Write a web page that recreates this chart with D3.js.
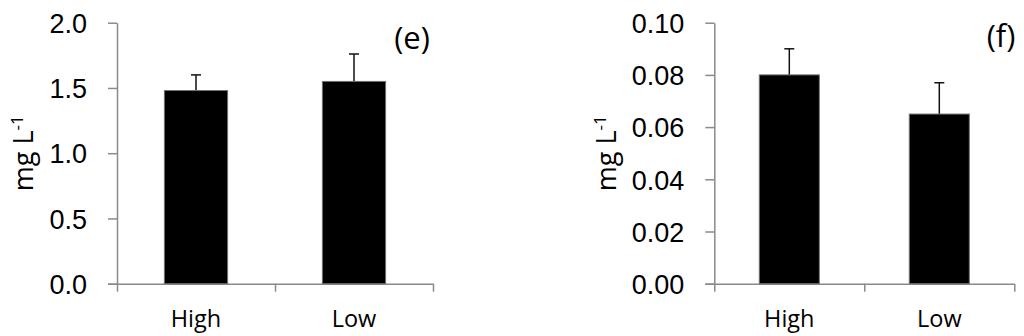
<!DOCTYPE html>
<html>
<head>
<meta charset="utf-8">
<script src="https://cdn.jsdelivr.net/npm/d3@7"></script>
<style>
  body { margin: 0; background: #fff; }
  svg { display: block; font-family: "Open Sans", sans-serif; }
</style>
</head>
<body>
<div id="chart"></div>
<script>
const categories = ["High", "Low"];

const valuesE = [1.48, 1.55];
const errorsE = [0.12, 0.21];
const ticksE = [0, 0.5, 1.0, 1.5, 2.0];

const valuesF = [0.080, 0.065];
const errorsF = [0.010, 0.012];
const ticksF = [0, 0.02, 0.04, 0.06, 0.08, 0.10];

const W = 1024, H = 336;
const axisColor = "#8a8a8a";

const svg = d3.select("#chart").append("svg")
  .attr("width", W)
  .attr("height", H);

function panel(opts) {
  const { x0, x1, yTop, yBottom, values, errors, ticks, fmt, tag, tagX, tagY, labelX } = opts;

  const y = d3.scaleLinear()
    .domain([ticks[0], ticks[ticks.length - 1]])
    .range([yBottom, yTop]);

  const xb = d3.scaleBand()
    .domain(categories)
    .range([x0, x1])
    .paddingInner(0.6)
    .paddingOuter(0.3);

  const g = svg.append("g");

  // y axis
  const ya = g.append("g")
    .attr("transform", `translate(${x0},0)`)
    .call(d3.axisLeft(y).tickValues(ticks).tickFormat(fmt)
      .tickSize(9).tickSizeOuter(0).tickPadding(21));
  ya.select(".domain").attr("stroke", axisColor).attr("stroke-width", 1.5);
  ya.selectAll(".tick line").attr("stroke", axisColor).attr("stroke-width", 1.5);
  ya.selectAll(".tick text")
    .attr("fill", "#000")
    .style("font-size", "27px")
    .attr("dy", "0.36em");

  // x axis (ticks at category boundaries)
  const xl = d3.scaleLinear().domain([0, categories.length]).range([x0, x1]);
  const xa = g.append("g")
    .attr("transform", `translate(0,${yBottom})`)
    .call(d3.axisBottom(xl).tickValues(d3.range(categories.length + 1))
      .tickFormat("").tickSize(8).tickSizeOuter(0));
  xa.select(".domain").attr("stroke", axisColor).attr("stroke-width", 1.5)
    .attr("d", `M${x0 - 9},0.5H${x1}`);
  xa.selectAll(".tick line").attr("stroke", axisColor).attr("stroke-width", 1.5);

  g.selectAll(".xlab")
    .data(categories)
    .join("text")
    .attr("class", "xlab")
    .attr("x", d => xb(d) + xb.bandwidth() / 2)
    .attr("y", 327)
    .attr("text-anchor", "middle")
    .style("font-size", "23.5px")
    .text(d => d);

  const data = categories.map((c, i) => ({ c, v: values[i], e: errors[i] }));

  // error bars (upper only)
  const eb = g.selectAll(".err").data(data).join("g").attr("class", "err")
    .attr("stroke", "#111").attr("stroke-width", 1.5);
  eb.append("line")
    .attr("x1", d => xb(d.c) + xb.bandwidth() / 2)
    .attr("x2", d => xb(d.c) + xb.bandwidth() / 2)
    .attr("y1", d => y(d.v))
    .attr("y2", d => y(d.v + d.e));
  eb.append("line")
    .attr("x1", d => xb(d.c) + xb.bandwidth() / 2 - 5)
    .attr("x2", d => xb(d.c) + xb.bandwidth() / 2 + 5)
    .attr("y1", d => y(d.v + d.e))
    .attr("y2", d => y(d.v + d.e));

  // bars
  g.selectAll(".bar")
    .data(data)
    .join("rect")
    .attr("class", "bar")
    .attr("x", d => xb(d.c))
    .attr("width", xb.bandwidth())
    .attr("y", d => y(d.v))
    .attr("height", d => y(0) - y(d.v))
    .attr("fill", "#000")
    .attr("stroke", "#6f6f6f")
    .attr("stroke-width", 1);

  // y label
  const yl = g.append("text")
    .attr("transform", `translate(${labelX},${(yTop + yBottom) / 2}) rotate(-90)`)
    .attr("text-anchor", "middle")
    .style("font-size", "27px");
  yl.append("tspan").text("mg L");
  yl.append("tspan").attr("dy", "-0.6em").style("font-size", "17px").text("-1");

  // panel tag
  g.append("text")
    .attr("x", tagX)
    .attr("y", tagY)
    .attr("text-anchor", "middle")
    .attr("dy", "0.35em")
    .style("font-size", "31px")
    .text(tag);
}

panel({
  x0: 117, x1: 433, yTop: 22.7, yBottom: 283.7,
  values: valuesE, errors: errorsE, ticks: ticksE, fmt: d3.format(".1f"),
  tag: "(e)", tagX: 412, tagY: 38, labelX: 33
});

panel({
  x0: 714.3, x1: 1014.3, yTop: 22.7, yBottom: 283.7,
  values: valuesF, errors: errorsF, ticks: ticksF, fmt: d3.format(".2f"),
  tag: "(f)", tagX: 1001, tagY: 36, labelX: 616
});
</script>
</body>
</html>
